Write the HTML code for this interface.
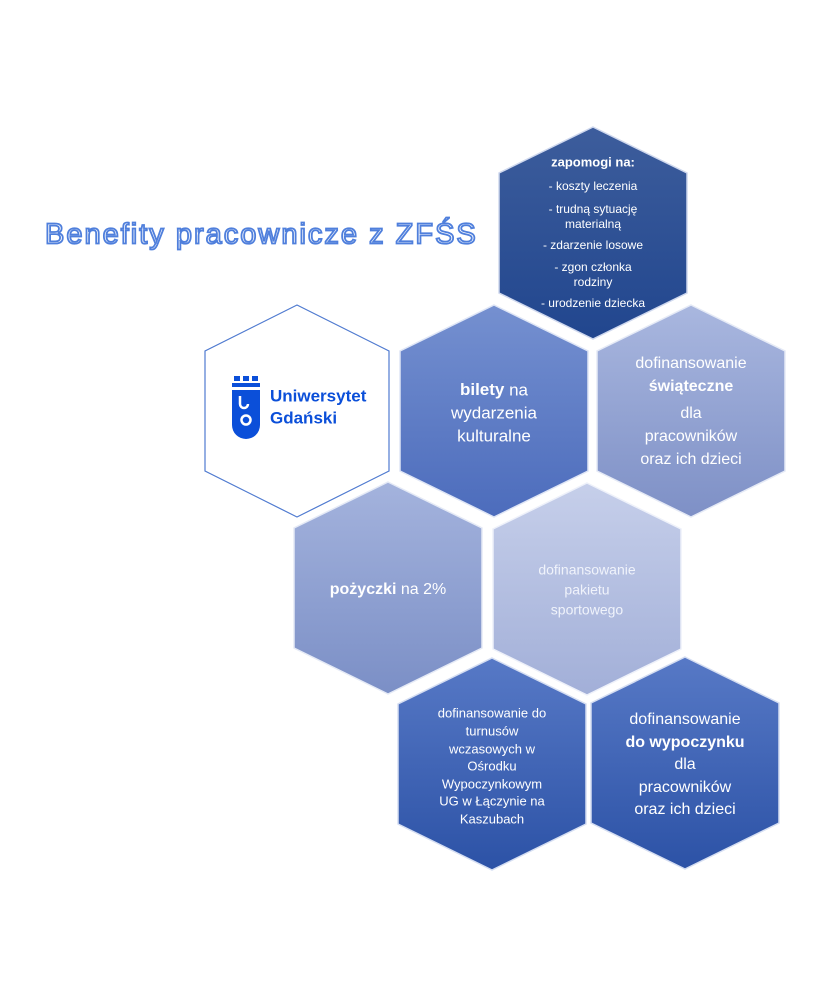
<!DOCTYPE html>
<html><head><meta charset="utf-8"><style>
html,body{margin:0;padding:0;background:#fff;}
svg{display:block;}
.t{font-family:"Liberation Sans",sans-serif;fill:#fff;text-anchor:middle;dominant-baseline:middle;}
</style></head><body>
<svg width="820" height="1000" viewBox="0 0 820 1000" xmlns="http://www.w3.org/2000/svg">
<defs>
<linearGradient id="gz" x1="0" y1="0" x2="0" y2="1"><stop offset="0" stop-color="#3d5d9c"/><stop offset="1" stop-color="#21468e"/></linearGradient>
<linearGradient id="gb" x1="0" y1="0" x2="0" y2="1"><stop offset="0" stop-color="#7590d0"/><stop offset="1" stop-color="#4c6cbc"/></linearGradient>
<linearGradient id="gs" x1="0" y1="0" x2="0" y2="1"><stop offset="0" stop-color="#a9b7df"/><stop offset="1" stop-color="#7e90c6"/></linearGradient>
<linearGradient id="gp" x1="0" y1="0" x2="0" y2="1"><stop offset="0" stop-color="#a4b3dd"/><stop offset="1" stop-color="#7b8fc6"/></linearGradient>
<linearGradient id="gsp" x1="0" y1="0" x2="0" y2="1"><stop offset="0" stop-color="#c6cfea"/><stop offset="1" stop-color="#a2afd8"/></linearGradient>
<linearGradient id="gw" x1="0" y1="0" x2="0" y2="1"><stop offset="0" stop-color="#5779c6"/><stop offset="1" stop-color="#2c52a6"/></linearGradient>
<polygon id="hx" points="94,0 188,46 188,166 94,212 0,166 0,46"/>
<polygon id="hl" points="92,0 184,46 184,166 92,212 0,166 0,46"/>
</defs>

<!-- title -->
<text x="45" y="236" style="font-family:'Liberation Sans',sans-serif;font-size:29px;fill:#fff;stroke:#4f7fdc;stroke-width:1.8;letter-spacing:2px;dominant-baseline:middle;">Benefity pracownicze z ZFŚS</text>

<use href="#hx" x="499" y="127" fill="url(#gz)" stroke="#cfd8ee" stroke-width="1.5"/>
<use href="#hl" x="205" y="305" fill="#fff" stroke="#4f7ad0" stroke-width="1.2"/>
<use href="#hx" x="400" y="305" fill="url(#gb)" stroke="#dfe6f6" stroke-width="1.5"/>
<use href="#hx" x="597" y="305" fill="url(#gs)" stroke="#e5eaf6" stroke-width="1.5"/>
<use href="#hx" x="294" y="482" fill="url(#gp)" stroke="#e5eaf6" stroke-width="1.5"/>
<use href="#hx" x="493" y="483" fill="url(#gsp)" stroke="#eef1fa" stroke-width="1.5"/>
<use href="#hx" x="398" y="658" fill="url(#gw)" stroke="#d5def2" stroke-width="1.5"/>
<use href="#hx" x="591" y="657" fill="url(#gw)" stroke="#d5def2" stroke-width="1.5"/>

<text class="t" x="593" y="163" font-weight="bold" font-size="13">zapomogi na:</text>
<text class="t" x="593" y="187" font-size="12">- koszty leczenia</text>
<text class="t" x="593" y="210" font-size="12">- trudną sytuację</text>
<text class="t" x="593" y="225" font-size="12">materialną</text>
<text class="t" x="593" y="246" font-size="12">- zdarzenie losowe</text>
<text class="t" x="593" y="268" font-size="12">- zgon członka</text>
<text class="t" x="593" y="283" font-size="12">rodziny</text>
<text class="t" x="593" y="304" font-size="12">- urodzenie dziecka</text>

<g fill="#0b4fd9">
<rect x="234" y="376" width="6" height="5"/><rect x="243" y="376" width="6" height="5"/><rect x="252" y="376" width="6" height="5"/>
<rect x="232" y="383" width="28" height="4"/>
<path d="M232,390 H260 V425 A14,14 0 0 1 232,425 Z"/>
</g>
<g fill="none" stroke="#fff" stroke-width="2.5">
<path d="M240,396 V404 A4,4 0 0 0 248,404"/>
<circle cx="246" cy="420" r="4.5"/>
</g>
<text x="270" y="397" style="font-family:'Liberation Sans',sans-serif;font-weight:bold;font-size:17px;fill:#0b4fd9;dominant-baseline:middle;">Uniwersytet</text>
<text x="270" y="419" style="font-family:'Liberation Sans',sans-serif;font-weight:bold;font-size:17px;fill:#0b4fd9;dominant-baseline:middle;">Gdański</text>

<text class="t" x="494" y="391" font-size="17"><tspan font-weight="bold">bilety</tspan> na</text>
<text class="t" x="494" y="414" font-size="17">wydarzenia</text>
<text class="t" x="494" y="437" font-size="17">kulturalne</text>

<text class="t" x="691" y="364" font-size="16">dofinansowanie</text>
<text class="t" x="691" y="387" font-size="16" font-weight="bold">świąteczne</text>
<text class="t" x="691" y="414" font-size="16">dla</text>
<text class="t" x="691" y="437" font-size="16">pracowników</text>
<text class="t" x="691" y="460" font-size="16">oraz ich dzieci</text>

<text class="t" x="388" y="590" font-size="16"><tspan font-weight="bold">pożyczki</tspan> na 2%</text>

<text class="t" x="587" y="571" font-size="14" style="fill:#f0f3fb">dofinansowanie</text>
<text class="t" x="587" y="591" font-size="14" style="fill:#f0f3fb">pakietu</text>
<text class="t" x="587" y="611" font-size="14" style="fill:#f0f3fb">sportowego</text>

<text class="t" x="492" y="714" font-size="13">dofinansowanie do</text>
<text class="t" x="492" y="732" font-size="13">turnusów</text>
<text class="t" x="492" y="750" font-size="13">wczasowych w</text>
<text class="t" x="492" y="767" font-size="13">Ośrodku</text>
<text class="t" x="492" y="785" font-size="13">Wypoczynkowym</text>
<text class="t" x="492" y="802" font-size="13">UG w Łączynie na</text>
<text class="t" x="492" y="820" font-size="13">Kaszubach</text>

<text class="t" x="685" y="720" font-size="16">dofinansowanie</text>
<text class="t" x="685" y="743" font-size="16" font-weight="bold">do wypoczynku</text>
<text class="t" x="685" y="765" font-size="16">dla</text>
<text class="t" x="685" y="788" font-size="16">pracowników</text>
<text class="t" x="685" y="810" font-size="16">oraz ich dzieci</text>
</svg>
</body></html>
